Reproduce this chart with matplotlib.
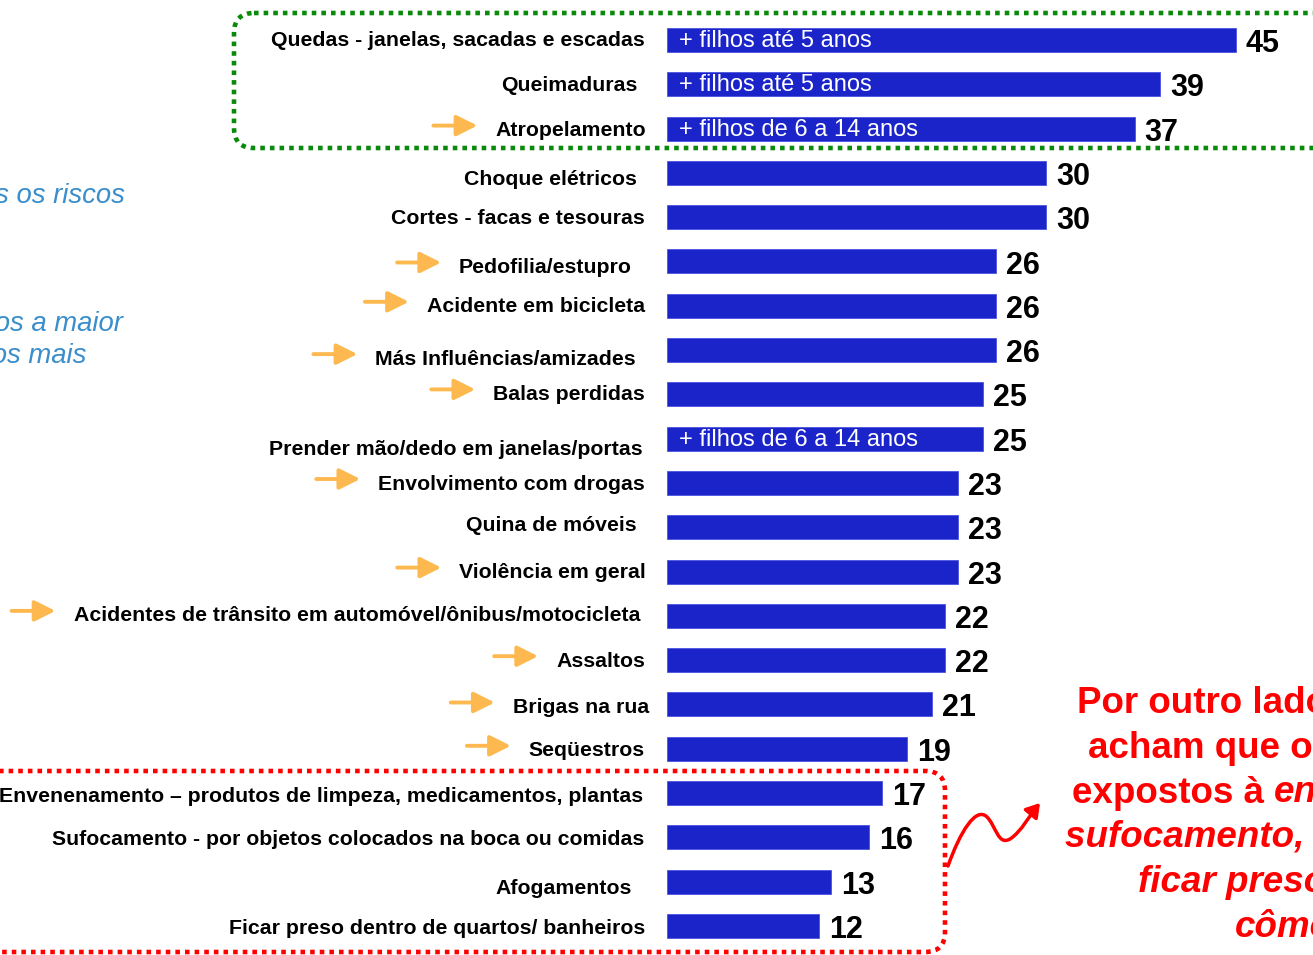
import matplotlib
matplotlib.use("Agg")
import matplotlib.pyplot as plt
from matplotlib.patches import FancyBboxPatch, FancyArrowPatch
from matplotlib.path import Path

# ---- data ----
categories = [
    "Quedas - janelas, sacadas e escadas",
    "Queimaduras",
    "Atropelamento",
    "Choque elétricos",
    "Cortes - facas e tesouras",
    "Pedofilia/estupro",
    "Acidente em bicicleta",
    "Más Influências/amizades",
    "Balas perdidas",
    "Prender mão/dedo em janelas/portas",
    "Envolvimento com drogas",
    "Quina de móveis",
    "Violência em geral",
    "Acidentes de trânsito em automóvel/ônibus/motocicleta",
    "Assaltos",
    "Brigas na rua",
    "Seqüestros",
    "Envenenamento – produtos de limpeza, medicamentos, plantas",
    "Sufocamento - por objetos colocados na boca ou comidas",
    "Afogamentos",
    "Ficar preso dentro de quartos/ banheiros",
]
values = [45, 39, 37, 30, 30, 26, 26, 26, 25, 25, 23, 23, 23, 22, 22, 21, 19, 17, 16, 13, 12]
# text shown inside some bars
bar_notes = {
    0: "+ filhos até 5 anos",
    1: "+ filhos até 5 anos",
    2: "+ filhos de 6 a 14 anos",
    9: "+ filhos de 6 a 14 anos",
}
# rows flagged with an orange arrow
arrow_rows = [2, 5, 6, 7, 8, 10, 12, 13, 14, 15, 16]

# ---- layout (pixels) ----
W, H = 1313, 955
px_per_unit = 12.64
bar_x0 = 667
row0_y, row_step = 40, 44.3
# small per-row nudges of the category labels, as on the slide
label_nudge = [(0, 1), (-8, 1), (1, 2), (-8, 7), (0, 1), (-13, 6), (0, 1), (-9, 9), (0, 0),
               (-2, 11), (0, 1), (-8, -2), (1, 1), (-5, 0), (0, 1), (4, 3), (0, 2),
               (-2, 3), (-1, 2), (-13, 7), (0, 3)]

BLUE = "#1b24c9"
ORANGE = "#fdb950"
GREEN = "#0a8a0a"
RED = "#ff0000"
SKY = "#3a8ecb"

fig = plt.figure(figsize=(W / 100, H / 100), dpi=100)

ax = fig.add_axes([0, 0, 1, 1])
ax.set_xlim(-bar_x0 / px_per_unit, (W - bar_x0) / px_per_unit)
ax.set_ylim((H - row0_y) / row_step, -row0_y / row_step)
ax.axis("off")

rows = list(range(len(categories)))
ax.barh(rows, values, height=24 / row_step, color=BLUE, edgecolor="#4a52e0", linewidth=0.6)

lab_font = dict(family="Liberation Sans", weight="bold", size=15.3, color="black")
labels = []
for i, (cat, v) in enumerate(zip(categories, values)):
    dx, dy = label_nudge[i]
    t = ax.annotate(cat, xy=(0, i), xytext=(-22 + dx, -dy), textcoords="offset pixels",
                    ha="right", va="center", **lab_font)
    labels.append(t)
    ax.annotate(str(v), xy=(v, i), xytext=(10, -4), textcoords="offset pixels",
                ha="left", va="center", family="Liberation Sans", weight="bold",
                size=22, color="black")
    if i in bar_notes:
        ax.annotate(bar_notes[i], xy=(0, i), xytext=(12, -1), textcoords="offset pixels",
                    ha="left", va="center", family="Liberation Sans", size=17,
                    color="white")

# overlay in pixel coordinates for the slide decorations
ov = fig.add_axes([0, 0, 1, 1], facecolor="none")
ov.set_xlim(0, W)
ov.set_ylim(H, 0)
ov.axis("off")

dots = (0, (1.0, 1.1))
ov.add_patch(FancyBboxPatch((234, 13), 1130, 135, boxstyle="round,pad=0,rounding_size=20",
                            fill=False, edgecolor=GREEN, lw=3.3, linestyle=dots))
ov.add_patch(FancyBboxPatch((-40, 771), 985, 181, boxstyle="round,pad=0,rounding_size=20",
                            fill=False, edgecolor=RED, lw=3.3, linestyle=dots))

# blue italic notes cut by the left edge of the slide crop
sky_font = dict(family="Liberation Sans", style="italic", size=19.8, color=SKY, va="center")
ov.text(125, 196, "Percebem todos os riscos", ha="right", **sky_font)
ov.text(123, 324, "e atribuem aos riscos externos a maior", ha="right", **sky_font)
ov.text(87, 356, "preocupação, pois são os mais", ha="right", **sky_font)

# red comment on the right
red_font = dict(family="Liberation Sans", weight="bold", size=26.5, color=RED, va="center")
ov.text(1077, 703, "Por outro lado, os pais", ha="left", **red_font)
ov.text(1088, 748, "acham que os filhos estão menos", ha="left", **red_font)
t3 = ov.text(1072, 793, "expostos à ", ha="left", **red_font)
ov.text(1065, 837, "sufocamento, afogamento e", ha="left", style="italic", **red_font)
ov.text(1138, 882, "ficar preso em", ha="left", style="italic", **red_font)
ov.text(1235, 927, "cômodos", ha="left", style="italic", **red_font)

# wavy red arrow
verts = [(948, 866), (960, 832), (976, 806), (987, 817),
         (996, 826), (998, 846), (1010, 839),
         (1021, 832), (1030, 815), (1040, 803)]
codes = [Path.MOVETO] + [Path.CURVE4] * 9
ov.add_patch(FancyArrowPatch(path=Path(verts, codes), arrowstyle="-|>,head_length=8,head_width=5",
                             color=RED, lw=2.5))

fig.canvas.draw()
bb3 = t3.get_window_extent()
ov.text(bb3.x1, 793, "envenenamento,", ha="left", style="italic", **red_font)

# orange arrows to the left of the flagged labels
for i in arrow_rows:
    bb = labels[i].get_window_extent()
    x_end = bb.x0 - 18
    y = H - (bb.y0 + bb.y1) / 2 - 5
    ov.annotate("", xy=(x_end, y), xytext=(x_end - 44, y),
                arrowprops=dict(arrowstyle="-|>,head_length=0.9,head_width=0.45",
                                color=ORANGE, lw=2.8, mutation_scale=14, shrinkA=0, shrinkB=0))

fig.savefig("out.png", dpi=100)
